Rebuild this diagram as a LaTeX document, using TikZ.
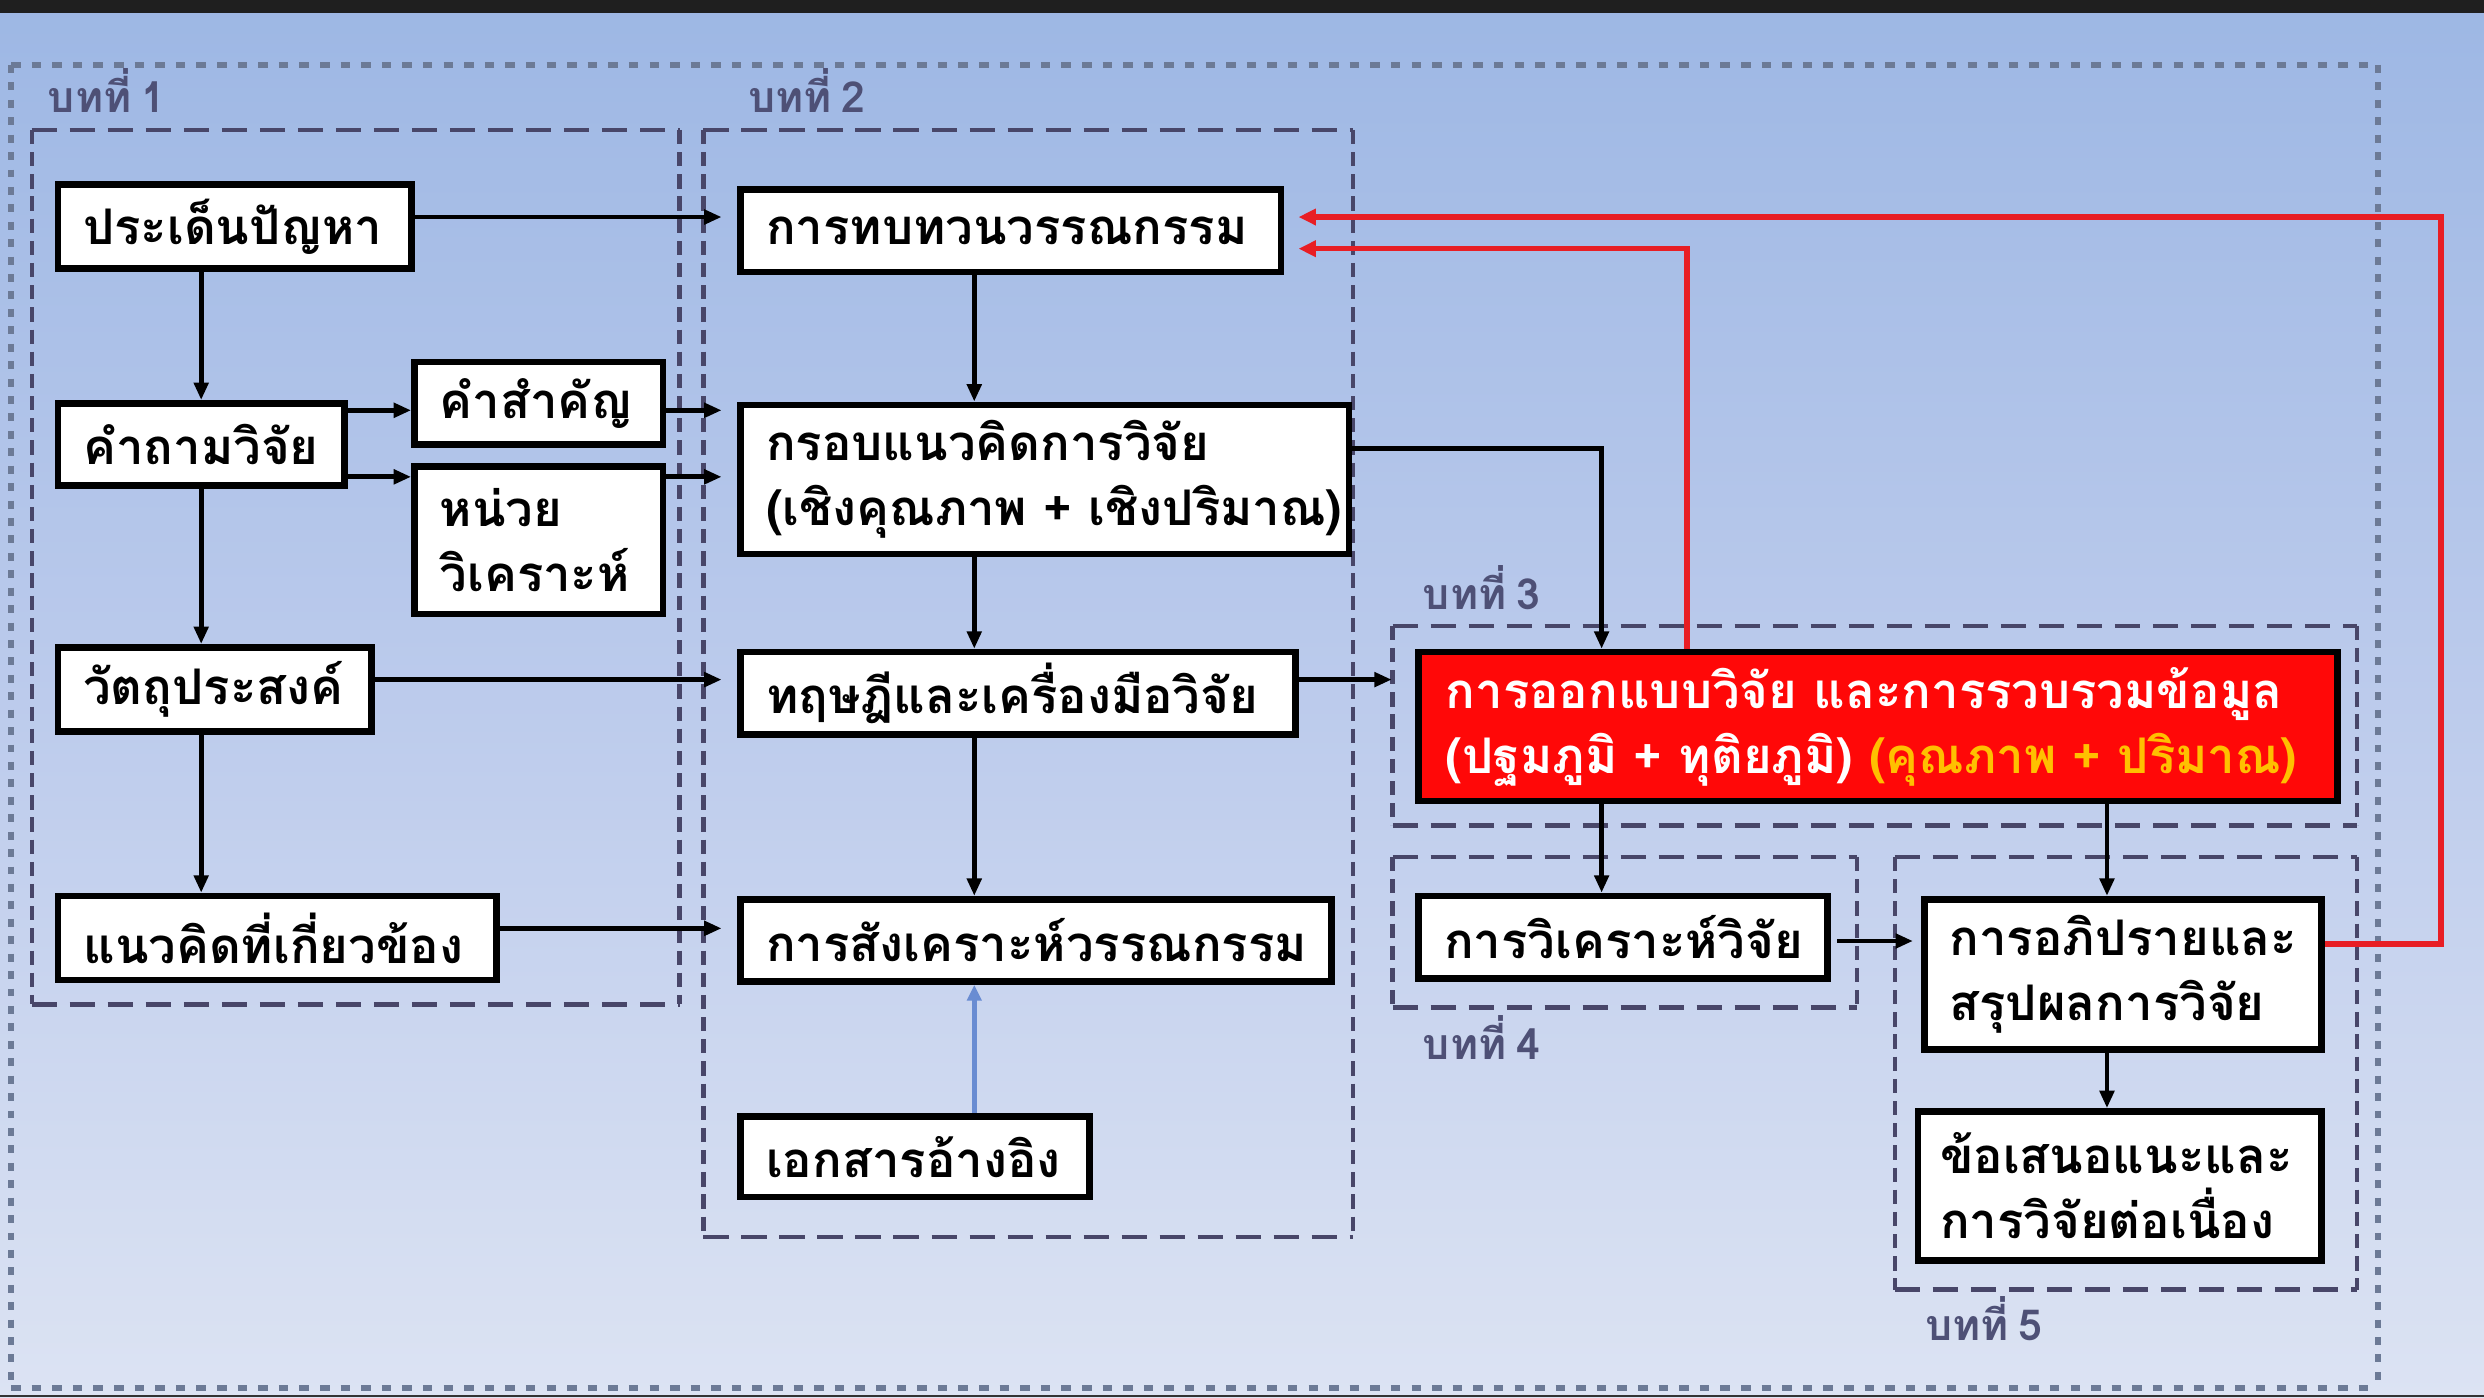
\documentclass[tikz,border=0pt]{standalone}
\usepackage{fontspec}
\newfontfamily\thaifont[Script=Thai,WordSpace=0.7]{Loma}
\usetikzlibrary{arrows.meta,calc}
\definecolor{bgtop}{RGB}{157,183,228}
\definecolor{bgmid}{RGB}{188,203,236}
\definecolor{bgbot}{RGB}{220,227,243}
\definecolor{dashc}{RGB}{72,70,105}
\definecolor{dotc}{RGB}{108,122,150}
\definecolor{labc}{RGB}{78,80,118}
\definecolor{redl}{RGB}{232,30,36}
\definecolor{bluel}{RGB}{105,140,210}
\definecolor{goldt}{RGB}{255,192,0}
\definecolor{redfill}{RGB}{255,8,8}
\begin{document}
\begin{tikzpicture}[x=1pt,y=-1pt,
  bx/.style={draw=black, line width=4.2pt, fill=white, anchor=north west,
    inner xsep=16pt, inner ysep=0pt, align=left,
    font=\thaifont\bfseries\fontsize{31}{41}\selectfont},
  lab/.style={anchor=base west, inner sep=0pt, text=labc,
    font=\thaifont\bfseries\fontsize{27}{30}\selectfont},
  arr/.style={draw=black, line width=3.1pt, -{Triangle[length=11pt,width=9pt]}},
  rarr/.style={draw=redl, line width=3.5pt, -{Triangle[length=11pt,width=10pt]}},
  barr/.style={draw=bluel, line width=3.3pt, -{Triangle[length=10pt,width=9pt]}},
  chh/.style={draw=dashc, line width=2.7pt, dash pattern=on 16pt off 8pt},
  chv/.style={draw=dashc, line width=2.7pt, dash pattern=on 9pt off 5pt},
  oth/.style={draw=dotc, line width=3.6pt, dash pattern=on 6pt off 7pt},
  otv/.style={draw=dotc, line width=3.6pt, dash pattern=on 5pt off 6pt}]
\useasboundingbox (0,0) rectangle (1568,882);
% background
\fill[top color=bgtop, bottom color=bgbot, middle color=bgmid] (0,0) rectangle (1568,882);
\fill[black!88] (0,0) rectangle (1568,8);
\fill[black!80] (0,880.5) rectangle (1568,882);
% outer dotted frame
\draw[oth] (7,41) -- (1501,41);
\draw[oth] (7,876) -- (1501,876);
\draw[otv] (7,41) -- (7,876);
\draw[otv] (1501,41) -- (1501,876);
% chapter boxes
\foreach \xa/\ya/\xb/\yb in {20/82/429/634, 444/82/854/781, 879/395/1488/521, 879/541/1172/636, 1196/541/1488/814}{
  \draw[chh] (\xa,\ya) -- (\xb,\ya);
  \draw[chh] (\xa,\yb) -- (\xb,\yb);
  \draw[chv] (\xa,\ya) -- (\xa,\yb);
  \draw[chv] (\xb,\ya) -- (\xb,\yb);
}
% chapter labels
\node[lab] (l1) at (30,71) {บทที่ 1};
\node[lab] (l2) at (472,71) {บทที่ 2};
\node[lab] (l3) at (898,385) {บทที่ 3};
\node[lab] (l4) at (898,669) {บทที่ 4};
\node[lab] (l5) at (1215,846) {บทที่ 5};
% chapter 1 nodes
\node[bx, minimum width=223pt, text width=191pt, minimum height=53pt] (n1) at (34.5,114.5) {\mbox{ประเด็นปัญหา}};
\node[bx, minimum width=181pt, text width=149pt, minimum height=52pt] (n2) at (34.5,252.5) {\mbox{คำถามวิจัย}};
\node[bx, minimum width=157pt, text width=125pt, minimum height=52pt] (n3) at (259.5,226.5) {\mbox{คำสำคัญ}};
\node[bx, minimum width=157pt, text width=125pt, minimum height=93pt] (n4) at (259.5,292.5) {\mbox{หน่วย}\\\mbox{วิเคราะห์}};
\node[bx, minimum width=198pt, text width=166pt, minimum height=53pt] (n5) at (34.5,406.5) {\mbox{วัตถุประสงค์}};
\node[bx, minimum width=277pt, text width=245pt, minimum height=53pt] (n6) at (34.5,563.5) {\mbox{แนวคิดที่เกี่ยวข้อง}};
% chapter 2 nodes
\node[bx, minimum width=341pt, text width=309pt, minimum height=52pt] (m1) at (465.5,117.5) {\mbox{การทบทวนวรรณกรรม}};
\node[bx, minimum width=384pt, text width=352pt, minimum height=94pt] (m2) at (465.5,253.5) {\mbox{กรอบแนวคิดการวิจัย}\\\mbox{(เชิงคุณภาพ + เชิงปริมาณ)}};
\node[bx, minimum width=350pt, text width=318pt, minimum height=52pt] (m3) at (465.5,409.5) {\mbox{ทฤษฎีและเครื่องมือวิจัย}};
\node[bx, minimum width=373pt, text width=341pt, minimum height=52pt] (m4) at (465.5,565.5) {\mbox{การสังเคราะห์วรรณกรรม}};
\node[bx, minimum width=220pt, text width=188pt, minimum height=51pt] (m5) at (465.5,702.5) {\mbox{เอกสารอ้างอิง}};
% chapter 3
\node[bx, fill=redfill, text=white, inner xsep=17pt, minimum width=580pt, text width=546pt, minimum height=94pt] (r1) at (893.5,409.5) {\mbox{การออกแบบวิจัย และการรวบรวมข้อมูล}\\\mbox{(ปฐมภูมิ + ทุติยภูมิ) {\color{goldt}(คุณภาพ + ปริมาณ)}}};
% chapter 4
\node[bx, minimum width=258pt, text width=226pt, minimum height=52pt] (a1) at (893.5,563.5) {\mbox{การวิเคราะห์วิจัย}};
% chapter 5
\node[bx, minimum width=251pt, text width=219pt, minimum height=95pt] (b1) at (1212.5,565.5) {\mbox{การอภิปรายและ}\\\mbox{สรุปผลการวิจัย}};
\node[bx, inner xsep=14pt, minimum width=255pt, text width=227pt, minimum height=94pt] (b2) at (1208.5,699.5) {\mbox{ข้อเสนอแนะและ}\\\mbox{การวิจัยต่อเนื่อง}};
% connectors chapter 1
\draw[arr, shorten >=10pt] (n1.east |- 0,137) -- (m1.west |- 0,137);
\draw[arr] (n1.south -| 127,0) -- (n2.north -| 127,0);
\draw[arr] (n2.south -| 127,0) -- (n5.north -| 127,0);
\draw[arr] (n5.south -| 127,0) -- (n6.north -| 127,0);
\draw[arr] (n2.east |- 0,259) -- (n3.west |- 0,259);
\draw[arr] (n2.east |- 0,301) -- (n4.west |- 0,301);
\draw[arr, shorten >=10pt] (n3.east |- 0,259) -- (m2.west |- 0,259);
\draw[arr, shorten >=10pt] (n4.east |- 0,301) -- (m2.west |- 0,301);
\draw[arr, shorten >=10pt] (n5.east |- 0,429) -- (m3.west |- 0,429);
\draw[arr, shorten >=10pt] (n6.east |- 0,586) -- (m4.west |- 0,586);
% chapter 2 chain
\draw[arr] (m1.south -| 615,0) -- (m2.north -| 615,0);
\draw[arr] (m2.south -| 615,0) -- (m3.north -| 615,0);
\draw[arr] (m3.south -| 615,0) -- (m4.north -| 615,0);
\draw[barr] (m5.north -| 615,0) -- (m4.south -| 615,0);
% to chapter 3
\draw[arr, shorten >=15pt] (m3.east |- 0,429) -- (r1.west |- 0,429);
\draw[arr] (m2.east |- 0,283) -| (r1.north -| 1011,0);
\draw[arr] (r1.south -| 1011,0) -- (a1.north -| 1011,0);
\draw[arr] (r1.south -| 1330,0) -- (b1.north -| 1330,0);
\draw[arr, shorten <=4pt, shorten >=5pt] (a1.east |- 0,594) -- (b1.west |- 0,594);
\draw[arr] (b1.south -| 1330,0) -- (b2.north -| 1330,0);
% red feedback
\draw[rarr, shorten >=9pt] (r1.north -| 1065,0) |- (m1.east |- 0,157);
\draw[rarr, shorten >=9pt] (b1.east |- 0,596) -| (1541,137) -- (m1.east |- 0,137);
\end{tikzpicture}
\end{document}
